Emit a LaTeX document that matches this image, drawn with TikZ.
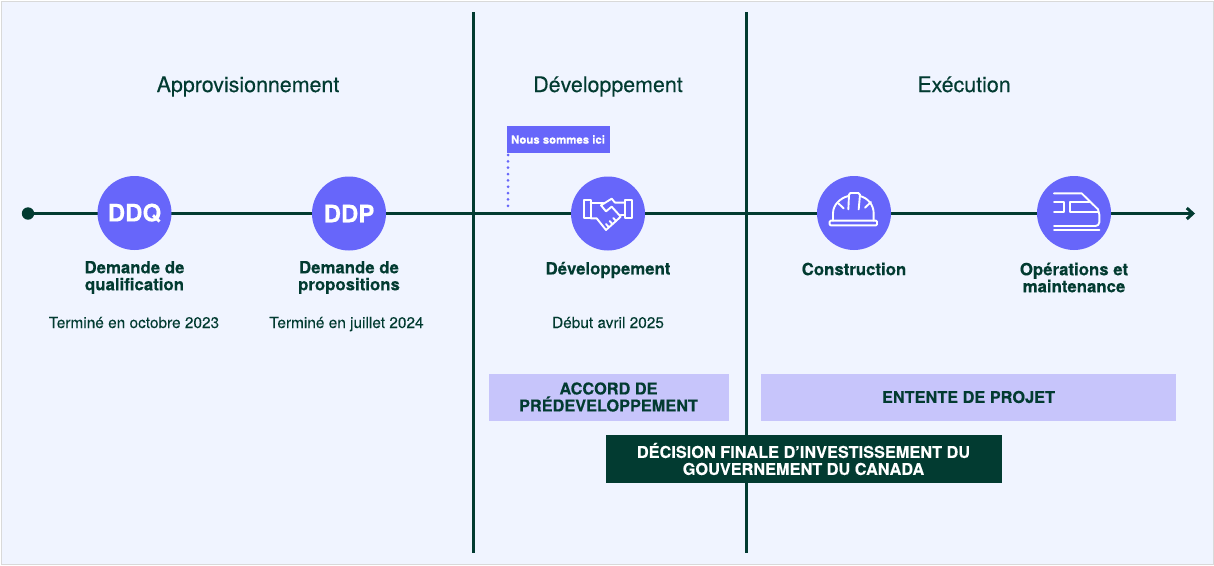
\documentclass[tikz,border=0pt]{standalone}
\usepackage{fontspec}
\setmainfont[BoldFeatures={FakeBold=0.2}]{TeX Gyre Heros}
\newfontfamily\medfont[FakeBold=0.25]{TeX Gyre Heros}
\newfontfamily\litefont[FakeBold=0.05]{TeX Gyre Heros}
\usetikzlibrary{arrows.meta}
\definecolor{bgc}{HTML}{F0F4FF}
\definecolor{dk}{HTML}{023B31}
\definecolor{vio}{HTML}{6766FA}
\definecolor{lav}{HTML}{C7C5FB}
\tikzset{
 circ/.style={circle,fill=vio,minimum size=74pt,inner sep=0pt,text=white,font=\fontsize{24}{24}\selectfont\bfseries},
 head/.style={text=dk,anchor=base,font=\fontsize{21.4}{24}\selectfont\medfont,inner sep=0pt},
 lab/.style={text=dk,font=\fontsize{16.8}{17}\selectfont\bfseries,align=center,inner sep=0pt},
 sub/.style={text=dk,anchor=base,font=\fontsize{15.4}{18}\selectfont\litefont,inner sep=0pt},
 band/.style={fill=lav,text=dk,font=\fontsize{16.3}{17}\selectfont\bfseries,align=center,inner sep=0pt},
 ic/.style={draw=white,line width=1.9pt,line join=round,line cap=round},
 axis/.style={draw=dk,line width=3pt},
}
\begin{document}
\begin{tikzpicture}[x=1pt,y=-1pt]
\useasboundingbox (0,0) rectangle (1214,565);
\fill[bgc,draw=black!15,line width=1pt] (1,1) rectangle (1213,564);
\coordinate (vat) at (473,12); \coordinate (vab) at (473,553);
\coordinate (vbt) at (746,12); \coordinate (vbb) at (746,553);
\coordinate (start) at (28,213.5); \coordinate (end) at (1195,213.5);
\draw[axis] (vat)--(vab);
\draw[axis] (vbt)--(vbb);
\draw[axis,-{Straight Barb[length=6pt,width=11pt,line width=3pt]}] (start)--(end);
\fill[dk] (start) circle (6.2);
\node[head] at (248,92) {Approvisionnement};
\node[head] at (608,92) {Développement};
\node[head] at (964,92) {Exécution};
\node[circ] (ddq) at (134.5,213) {DDQ};
\node[circ] (ddp) at (349,213.5) {DDP};
\node[circ] (dev) at (608,213.5) {};
\node[circ] (con) at (854,213) {};
\node[circ] (ops) at (1074,213) {};
% handshake
\begin{scope}[shift={(570,176)},scale=1/3]
 \draw[ic] (42,72) rectangle (62,127);
 \draw[ic] (165,72) rectangle (185,125);
 \draw[ic] (62,80)--(100,80);
 \draw[ic] (165,80)--(135,80)--(125,68)--(93,88)--(108,106)--(125,92)--(152,122)--(138,135)--(108,162)--(80,127)--(62,127);
 \draw[ic] (165,118)--(152,118);
 \draw[ic] (138,135)--(130,126);
 \draw[ic] (127,144)--(119,135);
 \draw[ic] (116,153)--(108,144);
\end{scope}
% hard hat
\begin{scope}[shift={(815,174)},scale=1/3]
 \draw[ic,rounded corners=1pt] (44,140) rectangle (186,154);
 \draw[ic] (54,140)--(54,118) .. controls (54,92) and (76,72) .. (100,66);
 \draw[ic] (135,66) .. controls (158,72) and (176,92) .. (176,118)--(176,140);
 \draw[ic] (100,106)--(102,62)--(106,57)--(130,57)--(135,62)--(131,106);
 \draw[ic] (70,88)--(86,103);
 \draw[ic] (168,84)--(150,101);
\end{scope}
% train
\begin{scope}[shift={(1036,174)},scale=1/3]
 \draw[ic] (54,58)--(137,58)--(186,106) .. controls (189,112) and (190,116) .. (190,122)--(190,145) .. controls (190,152) and (184,156) .. (178,156)--(54,156);
 \draw[ic] (54,168)--(190,168);
 \draw[ic] (54,85)--(84,85)--(84,113)--(54,113);
 \draw[ic] (160,85)--(102,85)--(102,113)--(187,113);
\end{scope}
% flag
\node[fill=vio,text=white,font=\fontsize{11.4}{14}\selectfont\bfseries,inner sep=0pt,minimum width=103pt,minimum height=27pt] (flag) at (558,139.5) {Nous sommes ici};
\coordinate (flagb) at (508,155);
\coordinate (flagt) at (508,212);
\draw[vio,line width=3pt,line cap=round,dash pattern=on 0pt off 6.35pt] (flagb)--(flagt);
% labels
\node[lab] at (134.5,277.5) {Demande de\\qualification};
\node[lab] at (349,277.5) {Demande de\\propositions};
\node[lab] at (608,270) {Développement};
\node[lab] at (854,269) {Construction};
\node[lab] at (1074,277.5) {Opérations et\\maintenance};
\node[sub] at (134,328) {Terminé en octobre 2023};
\node[sub] at (346.5,328) {Terminé en juillet 2024};
\node[sub] at (608,328) {Début avril 2025};
% bands
\node[band,minimum width=240pt,minimum height=47pt] (acc) at (608.5,397) {ACCORD DE\\PRÉDEVELOPPEMENT};
\node[band,minimum width=415pt,minimum height=47pt] (ent) at (968.5,397) {ENTENTE DE PROJET};
\node[band,fill=dk,text=white,minimum width=396pt,minimum height=48pt] (dec) at (803.5,459) {DÉCISION FINALE D’INVESTISSEMENT DU\\GOUVERNEMENT DU CANADA};
\end{tikzpicture}
\end{document}
